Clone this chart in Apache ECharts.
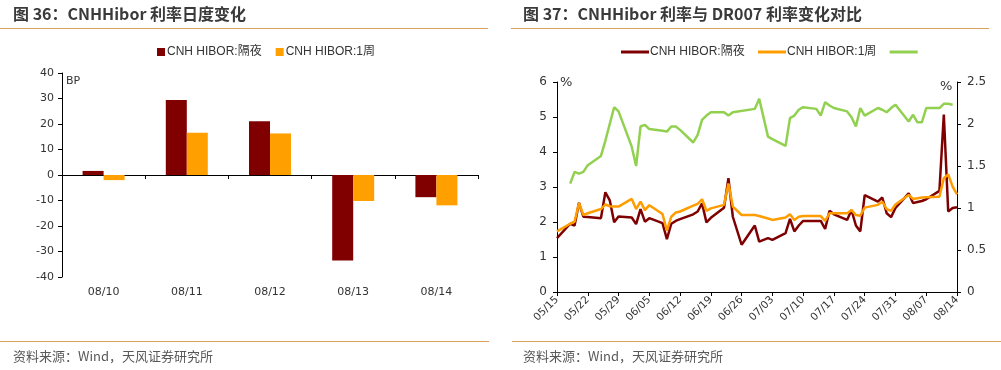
<!DOCTYPE html>
<html><head><meta charset="utf-8">
<script src="https://cdn.jsdelivr.net/npm/echarts@6/dist/echarts.min.js"></script>
<style>html,body{margin:0;padding:0;background:#fff}#c{width:1001px;height:370px}</style>
</head><body><div id="c"></div>
<script>
// ---- Figure 36: daily change (BP) ----
const barCategories = ['08/10', '08/11', '08/12', '08/13', '08/14'];
const barOvernight = [1.6, 29.4, 21.1, -33.5, -8.7];
const barWeek = [-2.0, 16.6, 16.3, -10.2, -11.9];

// ---- Figure 37: rates (%) ----
const lineDates = ['05/15','05/18','05/19','05/20','05/21','05/22','05/25','05/26','05/27','05/28','05/29',
  '06/01','06/02','06/03','06/04','06/05','06/08','06/09','06/10','06/11','06/12','06/15','06/16','06/17','06/18','06/19',
  '06/22','06/23','06/24','06/26','06/29','06/30','07/02','07/03','07/06','07/07','07/08','07/09','07/10',
  '07/13','07/14','07/15','07/16','07/17','07/20','07/21','07/22','07/23','07/24','07/27','07/28','07/29','07/30','07/31',
  '08/03','08/04','08/05','08/06','08/07','08/10','08/11','08/12','08/13','08/14'];
const hiborOvernight = [1.54,1.95,1.90,2.55,2.15,2.14,2.11,2.85,2.62,1.99,2.16,
  2.13,1.94,2.37,2.01,2.11,1.97,1.51,1.95,2.03,2.08,2.22,2.30,2.53,1.99,2.12,
  2.41,3.25,2.15,1.35,1.90,1.44,1.54,1.49,1.68,2.09,1.73,1.90,2.03,
  2.03,2.03,1.80,2.32,2.22,2.06,2.34,1.90,1.73,2.77,2.58,2.70,2.25,2.14,2.40,
  2.82,2.54,2.57,2.60,2.65,2.89,5.07,2.30,2.40,2.42];
const hiborWeek = [1.73,1.95,2.01,2.54,2.20,2.25,2.37,2.50,2.45,2.44,2.44,
  2.66,2.37,2.58,2.34,2.48,2.23,1.75,2.15,2.27,2.30,2.47,2.52,2.65,2.32,2.39,
  2.49,3.10,2.44,2.20,2.20,2.17,2.10,2.06,2.13,2.22,2.06,2.15,2.17,
  2.17,2.17,2.03,2.25,2.25,2.25,2.34,2.20,2.18,2.41,2.49,2.58,2.37,2.32,2.50,
  2.77,2.66,2.68,2.70,2.71,2.72,3.25,3.36,3.01,2.79];
const dr007 = [null,1.29,1.43,1.41,1.43,1.51,1.62,1.80,2.00,2.20,2.15,
  1.73,1.50,1.97,1.99,1.94,1.92,1.91,1.97,1.97,1.93,1.78,1.87,2.05,2.10,2.14,
  2.14,2.10,2.14,null,2.18,2.30,1.85,1.82,1.74,2.07,2.10,2.17,2.20,
  2.18,2.10,2.26,2.22,2.19,2.15,2.08,1.97,2.19,2.10,2.19,2.17,2.14,2.19,2.23,
  2.03,2.11,2.02,2.02,2.19,2.19,2.24,2.24,2.23,null];
const lineTickLabels = ['05/15','05/22','05/29','06/05','06/12','06/19','06/26','07/03','07/10','07/17','07/24','07/31','08/07','08/14'];
const leftTicks = [0,1,2,3,4,5,6];
const rightTicks = [0,0.5,1,1.5,2,2.5];

function dayOffset(s) {
  const p = s.split('/').map(Number);
  return Math.round((Date.UTC(2020, p[0] - 1, p[1]) - Date.UTC(2020, 4, 15)) / 864e5);
}
function pairs(vals) {
  const out = [];
  vals.forEach((v, i) => { if (v != null) out.push([dayOffset(lineDates[i]), v]); });
  return out;
}

const RED = '#7f0000', ORANGE = '#ff9c00', GREEN = '#92d050';
const TXT = '#333333';
const labelFont = { color: TXT, fontSize: 11, fontFamily: 'DejaVu Sans' };
const cjk = '"Noto Sans CJK SC", sans-serif';

const chart = echarts.init(document.getElementById('c'), null, { renderer: 'canvas' });
chart.setOption({
  animation: false,
  backgroundColor: '#fff',
  graphic: [
    { type: 'text', left: 13, top: 6, style: { text: '图 36：CNHHibor 利率日度变化', font: 'bold 16px ' + cjk, fill: '#3a3a3a' } },
    { type: 'text', left: 523, top: 6, style: { text: '图 37：CNHHibor 利率与 DR007 利率变化对比', font: 'bold 16px ' + cjk, fill: '#3a3a3a' } },
    { type: 'line', shape: { x1: 0, y1: 28.5, x2: 488, y2: 28.5 }, style: { stroke: '#d9a25e', lineWidth: 1.2 } },
    { type: 'line', shape: { x1: 511, y1: 28.5, x2: 989, y2: 28.5 }, style: { stroke: '#d9a25e', lineWidth: 1.2 } },
    { type: 'line', shape: { x1: 0, y1: 341.5, x2: 489, y2: 341.5 }, style: { stroke: '#d9a25e', lineWidth: 1.2 } },
    { type: 'line', shape: { x1: 512, y1: 341.5, x2: 1001, y2: 341.5 }, style: { stroke: '#d9a25e', lineWidth: 1.2 } },
    { type: 'text', left: 13, top: 350, style: { text: '资料来源：Wind，天风证券研究所', font: '13px ' + cjk, fill: '#595959' } },
    { type: 'text', left: 523, top: 350, style: { text: '资料来源：Wind，天风证券研究所', font: '13px ' + cjk, fill: '#595959' } },
    { type: 'text', left: 66, top: 76, style: { text: 'BP', font: '11px DejaVu Sans', fill: TXT } },
    { type: 'text', left: 560, top: 76, style: { text: '%', font: '13px DejaVu Sans', fill: TXT } },
    { type: 'text', left: 940, top: 80, style: { text: '%', font: '13px DejaVu Sans', fill: TXT } }
  ],
  legend: [
    { left: 152, top: 41, icon: 'rect', itemWidth: 8, itemHeight: 8, itemGap: 14,
      textStyle: { color: TXT, fontSize: 12, fontFamily: 'Liberation Sans, ' + cjk, padding: [0, 0, 0, -3] },
      data: ['CNH HIBOR:隔夜', 'CNH HIBOR:1周'] },
    { left: 616, top: 41, icon: 'rect', itemWidth: 28, itemHeight: 3, itemGap: 10,
      textStyle: { color: TXT, fontSize: 12, fontFamily: 'Liberation Sans, ' + cjk, padding: [0, 0, 0, -4] },
      data: ['CNH HIBOR:隔夜 ', 'CNH HIBOR:1周 ', ' '] }
  ],
  grid: [
    { left: 62, top: 73, width: 416, height: 204, containLabel: false },
    { left: 557, top: 82, width: 400, height: 210, containLabel: false }
  ],
  xAxis: [
    { type: 'category', gridIndex: 0, data: barCategories, position: 'bottom',
      axisLine: { show: false, onZero: false }, axisTick: { show: false },
      axisLabel: Object.assign({ margin: 10 }, labelFont) },
    { type: 'category', gridIndex: 0, data: barCategories, position: 'top',
      axisLine: { show: true, onZero: true, lineStyle: { color: '#000', width: 1 } },
      axisTick: { show: true, inside: true, length: 4, lineStyle: { color: '#000' } },
      axisLabel: { show: false } },
    { type: 'value', gridIndex: 1, min: 0, max: 91, interval: 7,
      axisLine: { show: true, onZero: false, lineStyle: { color: '#000', width: 1 } },
      axisTick: { show: true, length: 4, lineStyle: { color: '#000' } },
      splitLine: { show: false },
      axisLabel: Object.assign({ rotate: 45, margin: 6, fontSize: 10.5,
        formatter: v => lineTickLabels[Math.round(v / 7)] || '' }, labelFont, { fontSize: 10.5 }) }
  ],
  yAxis: [
    { type: 'value', gridIndex: 0, min: -40, max: 40, interval: 10,
      axisLine: { show: true, lineStyle: { color: '#000', width: 1 } },
      axisTick: { show: true, length: 4, lineStyle: { color: '#000' } },
      splitLine: { show: false }, axisLabel: Object.assign({ margin: 8 }, labelFont) },
    { type: 'value', gridIndex: 1, min: leftTicks[0], max: leftTicks[leftTicks.length - 1], interval: 1,
      axisLine: { show: true, lineStyle: { color: '#000', width: 1 } },
      axisTick: { show: true, length: 4, lineStyle: { color: '#000' } },
      splitLine: { show: false }, axisLabel: Object.assign({ margin: 10 }, labelFont, { fontSize: 12 }) },
    { type: 'value', gridIndex: 1, position: 'right', min: rightTicks[0], max: rightTicks[rightTicks.length - 1], interval: 0.5,
      axisLine: { show: true, lineStyle: { color: '#000', width: 1 } },
      axisTick: { show: true, length: 4, lineStyle: { color: '#000' } },
      splitLine: { show: false }, axisLabel: Object.assign({ margin: 10 }, labelFont, { fontSize: 12 }) }
  ],
  series: [
    { name: 'CNH HIBOR:隔夜', type: 'bar', xAxisIndex: 0, yAxisIndex: 0, data: barOvernight,
      barWidth: 21, barGap: '0%', itemStyle: { color: '#800000' } },
    { name: 'CNH HIBOR:1周', type: 'bar', xAxisIndex: 0, yAxisIndex: 0, data: barWeek,
      barWidth: 21, barGap: '0%', itemStyle: { color: '#ff9f00' } },
    { name: 'CNH HIBOR:隔夜 ', type: 'line', xAxisIndex: 2, yAxisIndex: 1, data: pairs(hiborOvernight),
      showSymbol: false, symbol: 'none', color: RED, lineStyle: { color: RED, width: 2.5 } },
    { name: 'CNH HIBOR:1周 ', type: 'line', xAxisIndex: 2, yAxisIndex: 1, data: pairs(hiborWeek),
      showSymbol: false, symbol: 'none', color: ORANGE, lineStyle: { color: ORANGE, width: 2.5 } },
    { name: ' ', type: 'line', xAxisIndex: 2, yAxisIndex: 2, data: pairs(dr007),
      showSymbol: false, symbol: 'none', color: GREEN, lineStyle: { color: GREEN, width: 2.5 } }
  ]
});
</script></body></html>
